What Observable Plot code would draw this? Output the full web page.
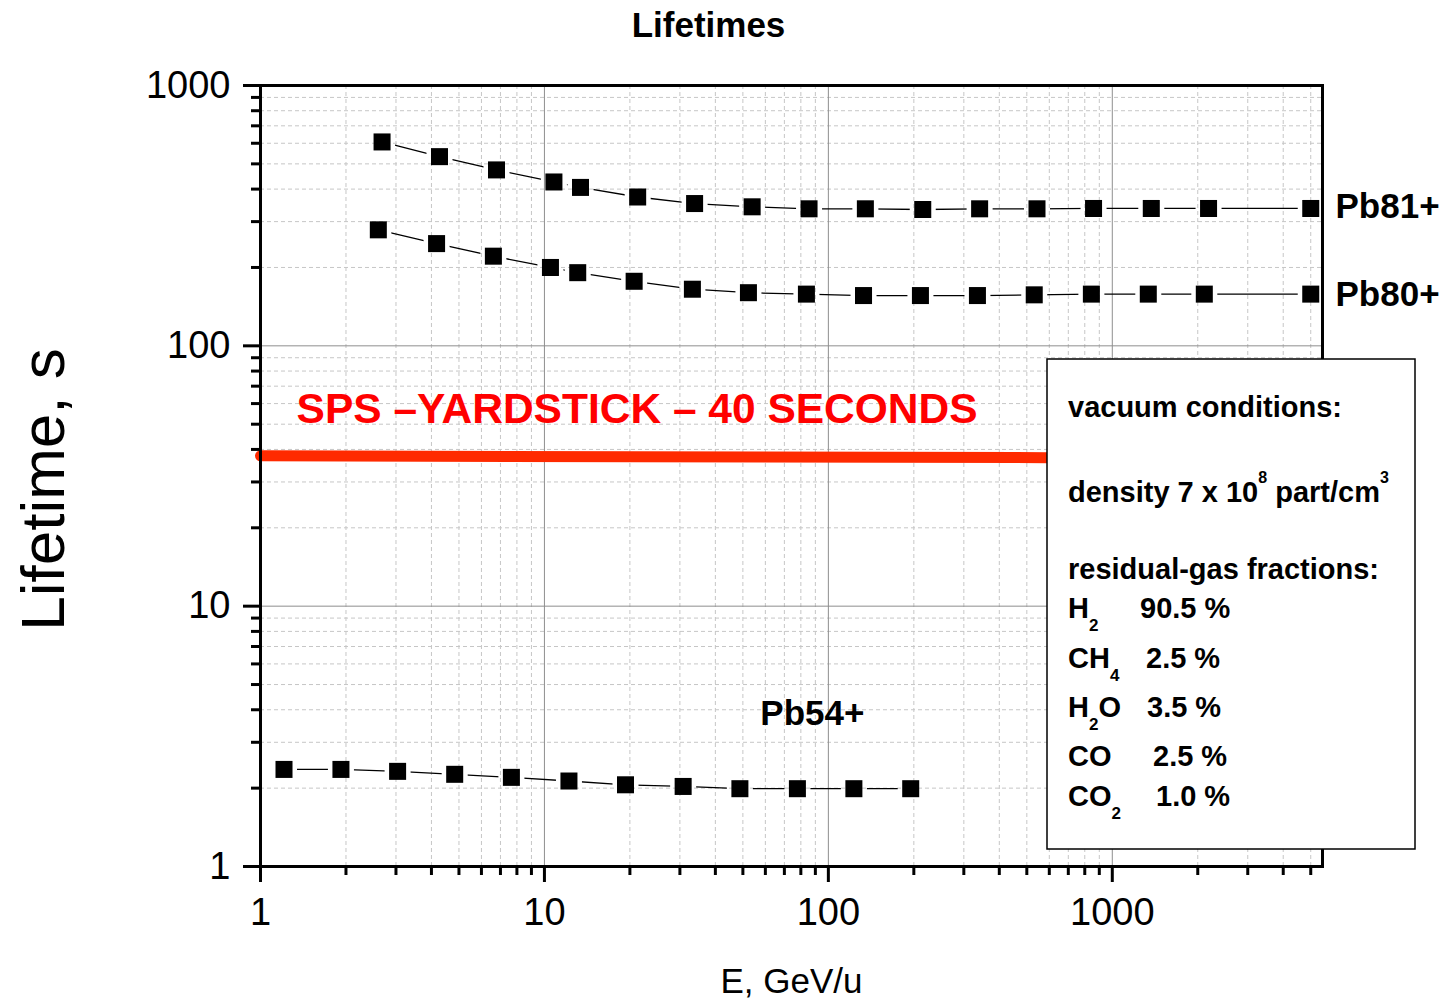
<!DOCTYPE html>
<html><head><meta charset="utf-8">
<script src="https://cdn.jsdelivr.net/npm/d3@7"></script>
<script src="https://cdn.jsdelivr.net/npm/@observablehq/plot@0.6"></script>
<style>body{margin:0;background:#fff;} #chart{width:1449px;height:999px;}</style>
</head><body><div id="chart"></div>
<script>
// ---- data ----
const pb81Energy = [2.68, 4.27, 6.78, 10.8, 13.4, 21.3, 33.8, 53.9, 85.5, 135, 215, 341, 543, 859, 1372, 2183, 5000];
const pb81Life   = [607, 533, 474, 426, 406, 373, 352, 342, 336, 336, 334, 336, 336, 337, 337, 337, 337];
const pb80Energy = [2.60, 4.17, 6.61, 10.5, 13.1, 20.7, 33.2, 52.3, 83.7, 133, 211, 335, 531, 844, 1339, 2109, 5000];
const pb80Life   = [279, 247, 221, 200, 191, 177, 165, 160, 158, 156, 156, 156, 157, 158, 158, 158, 158];
const pb54Energy = [1.21, 1.92, 3.04, 4.83, 7.65, 12.2, 19.3, 30.8, 48.8, 77.8, 123, 195];
const pb54Life   = [2.36, 2.36, 2.32, 2.26, 2.20, 2.13, 2.06, 2.03, 1.99, 1.99, 1.99, 1.99];
const yardstickEnergy = [1, 595];
const yardstickLife = [37.8, 37.2];
const majorTicks = [1, 10, 100, 1000];
const tickLabels = ["1", "10", "100", "1000"];
const sideLabels = ["Pb81+", "Pb80+"];
const sideLabelLife = [341, 157];
const pb54Label = {text: "Pb54+", E: 57.6, T: 3.87};
const yardstickLabel = {text: "SPS \u2013YARDSTICK \u2013 40 SECONDS", E: 1.34, T: 57.3};
const gasNames = [["H", "2", ""], ["CH", "4", ""], ["H", "2", "O"], ["CO", "", ""], ["CO", "2", ""]];
const gasFractions = ["90.5 %", "2.5 %", "3.5 %", "2.5 %", "1.0 %"];

// ---- build tables ----
const rows = [];
pb81Energy.forEach((e, i) => rows.push({ion: "Pb81+", E: e, T: pb81Life[i]}));
pb80Energy.forEach((e, i) => rows.push({ion: "Pb80+", E: e, T: pb80Life[i]}));
pb54Energy.forEach((e, i) => rows.push({ion: "Pb54+", E: e, T: pb54Life[i]}));
const yard = yardstickEnergy.map((e, i) => ({E: e, T: yardstickLife[i]}));
const minorX = [], minorY = [];
for (const d of [1, 10, 100, 1000]) for (let k = 2; k <= 9; k++) {
  const v = d * k;
  if (v <= 5500) minorX.push(v);
  if (v < 1000) minorY.push(v);
}
const side = sideLabels.map((t, i) => ({text: t, T: sideLabelLife[i]}));
const fmt = d => tickLabels[majorTicks.indexOf(d)];
const font = "'Liberation Sans', Arial, Helvetica, sans-serif";

const chart = Plot.plot({
  width: 1449, height: 999,
  marginLeft: 260, marginRight: 127, marginTop: 85, marginBottom: 133,
  style: {fontFamily: font, background: "#fff", overflow: "visible", color: "#000"},
  x: {type: "log", domain: [1, 5500], label: null},
  y: {type: "log", domain: [1, 1000], label: null},
  marks: [
    Plot.ruleX(minorX, {stroke: "#c6c6c6", strokeDasharray: "4,3", strokeWidth: 1}),
    Plot.ruleY(minorY, {stroke: "#c6c6c6", strokeDasharray: "4,3", strokeWidth: 1}),
    Plot.ruleX([10, 100, 1000], {stroke: "#8e8e8e", strokeWidth: 1}),
    Plot.ruleY([10, 100], {stroke: "#8e8e8e", strokeWidth: 1}),
    Plot.line(yard, {x: "E", y: "T", stroke: "#ff2a00", strokeWidth: 11}),
    Plot.line(rows, {x: "E", y: "T", z: "ion", stroke: "#000", strokeWidth: 1.3, className: "ionlines"}),
    Plot.dot(rows, {x: "E", y: "T", symbol: "square", r: 9.6, fill: "#000", stroke: "none", className: "ionmarks"}),
    Plot.frame({stroke: "#000", strokeWidth: 3}),
    Plot.axisX(majorTicks, {tickSize: 16, tickPadding: 16, strokeWidth: 3, fontSize: 38, tickFormat: fmt, label: null}),
    Plot.axisX(minorX, {tickSize: 9, strokeWidth: 3, tickFormat: () => "", label: null}),
    Plot.axisY(majorTicks, {tickSize: 17, tickPadding: 13, strokeWidth: 3, fontSize: 38, tickFormat: fmt, label: null}),
    Plot.axisY(minorY, {tickSize: 9, strokeWidth: 3, tickFormat: () => "", label: null}),
    Plot.text(["Lifetimes"], {frameAnchor: "top", dx: -83, dy: -49, lineAnchor: "bottom", fontSize: 35, fontWeight: "bold"}),
    Plot.text(["Lifetime, s"], {frameAnchor: "left", rotate: -90, dx: -197, dy: 13.5, lineAnchor: "bottom", textAnchor: "middle", fontSize: 62}),
    Plot.text(["E, GeV/u"], {frameAnchor: "bottom", dy: 126, lineAnchor: "bottom", fontSize: 35}),
    Plot.text(side, {y: "T", text: "text", frameAnchor: "right", dx: 13, textAnchor: "start", lineAnchor: "middle", fontSize: 35, fontWeight: "bold"}),
    Plot.text([pb54Label], {x: "E", y: "T", text: "text", textAnchor: "start", lineAnchor: "middle", fontSize: 35, fontWeight: "bold"}),
    Plot.text([yardstickLabel], {x: "E", y: "T", text: "text", textAnchor: "start", lineAnchor: "middle", fontSize: 43, fontWeight: "bold", fill: "#ff0000", className: "yardstick"})
  ]
});
document.getElementById("chart").appendChild(chart);
const svg = d3.select(chart);

// condensed red label
svg.selectAll(".yardstick text").attr("textLength", 681).attr("lengthAdjust", "spacingAndGlyphs");

// gaps between connecting lines and markers (mask derived from rendered marker positions)
const mask = svg.insert("defs", ":first-child").append("mask").attr("id", "gapmask")
  .attr("maskUnits", "userSpaceOnUse").attr("x", 0).attr("y", 0).attr("width", 1449).attr("height", 999);
mask.append("rect").attr("x", 0).attr("y", 0).attr("width", 1449).attr("height", 999).attr("fill", "#fff");
const gap = 26;
svg.selectAll(".ionmarks path").each(function () {
  const m = /translate\(([-\d.e]+)[ ,]+([-\d.e]+)\)/.exec(this.getAttribute("transform") || "");
  if (!m) return;
  mask.append("rect").attr("x", +m[1] - gap / 2).attr("y", +m[2] - gap / 2)
    .attr("width", gap).attr("height", gap).attr("fill", "#000");
});
svg.selectAll(".ionlines").attr("mask", "url(#gapmask)");

// ---- vacuum-conditions box ----
const g = svg.append("g").attr("font-family", font).attr("font-weight", "bold").attr("font-size", 29)
  .attr("fill", "#000").attr("text-anchor", "start");
g.append("rect").attr("x", 1047).attr("y", 359).attr("width", 368).attr("height", 490)
  .attr("fill", "#fff").attr("stroke", "#000").attr("stroke-width", 1.5);
g.append("text").attr("x", 1068).attr("y", 417).text("vacuum conditions:");
const dens = g.append("text").attr("x", 1068).attr("y", 502);
dens.append("tspan").text("density 7 x 10");
dens.append("tspan").attr("font-size", 16).attr("dy", -19).text("8");
dens.append("tspan").attr("dy", 19).text(" part/cm");
dens.append("tspan").attr("font-size", 16).attr("dy", -19).text("3");
g.append("text").attr("x", 1068).attr("y", 579).text("residual-gas fractions:");
const gasY = [618, 668, 717, 766, 806];
const gasX = [1140, 1146, 1147, 1153, 1156];
gasNames.forEach((parts, i) => {
  const t = g.append("text").attr("x", 1068).attr("y", gasY[i]);
  t.append("tspan").text(parts[0]);
  if (parts[1]) {
    t.append("tspan").attr("font-size", 17).attr("dy", 13).text(parts[1]);
    if (parts[2]) t.append("tspan").attr("dy", -13).text(parts[2]);
  }
  g.append("text").attr("x", gasX[i]).attr("y", gasY[i]).text(gasFractions[i]);
});
</script>
</body></html>
